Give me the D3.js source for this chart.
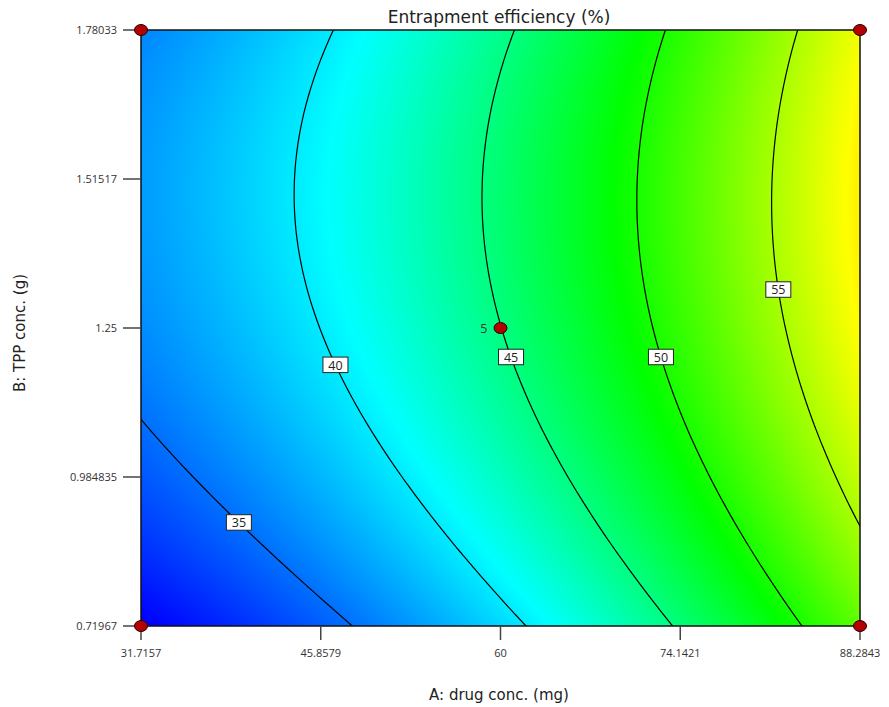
<!DOCTYPE html>
<html>
<head>
<meta charset="utf-8">
<script src="https://cdn.jsdelivr.net/npm/d3@7/dist/d3.min.js"></script>
<style>
  html, body { margin: 0; padding: 0; background: #fff; }
  svg { display: block; font-family: "Open Sans", "Noto Sans", sans-serif; }
  .title { font-family: "DejaVu Sans", "Open Sans", sans-serif; }
</style>
</head>
<body>
<svg id="chart" width="889" height="707"></svg>
<script>
// Factor ranges and axis ticks (actual units)
const drugTicks = [31.7157, 45.8579, 60, 74.1421, 88.2843];
const tppTicks = [0.71967, 0.984835, 1.25, 1.51517, 1.78033];

// Coding of the factors: coded = (actual - center) / step
const factorCenter = [60, 1.25];
const factorStep = [20, 0.375];

// Quadratic model in coded factors: intercept, A, B, AB, A², B²
const modelCoef = [44.97, 7.75, 1.90, -0.06, 1.07, -1.54];

// Contour levels and the TPP value at which each level is labelled
const contourLevels = [35, 40, 45, 50, 55];
const labelTpp = [0.9035, 1.184, 1.198, 1.198, 1.318];

// Design points
const designDrug = [31.7157, 31.7157, 88.2843, 88.2843, 60];
const designTpp = [0.71967, 1.78033, 1.78033, 0.71967, 1.25];
const designRuns = [1, 1, 1, 1, 5];

function response(A, B) {
  const a = (A - factorCenter[0]) / factorStep[0];
  const b = (B - factorCenter[1]) / factorStep[1];
  const [c0, c1, c2, c12, c11, c22] = modelCoef;
  return c0 + c1 * a + c2 * b + c12 * a * b + c11 * a * a + c22 * b * b;
}

const svg = d3.select("#chart");
const pLeft = 141, pRight = 860, pTop = 30, pBottom = 626;
const W = pRight - pLeft, H = pBottom - pTop;

const x = d3.scaleLinear().domain([drugTicks[0], drugTicks[drugTicks.length - 1]]).range([pLeft, pRight]);
const y = d3.scaleLinear().domain([tppTicks[0], tppTicks[tppTicks.length - 1]]).range([pBottom, pTop]);

const color = d3.scaleLinear()
  .domain([30.5, 40.8, 49.2, 58.0, 66.8])
  .range(["#0000ff", "#00ffff", "#00ff00", "#ffff00", "#ff0000"])
  .clamp(true);

// Colour-filled response surface
const canvas = document.createElement("canvas");
canvas.width = W; canvas.height = H;
const ctx = canvas.getContext("2d");
const img = ctx.createImageData(W, H);
for (let py = 0; py < H; py++) {
  const B = y.invert(pTop + py + 0.5);
  for (let px = 0; px < W; px++) {
    const A = x.invert(pLeft + px + 0.5);
    const c = d3.rgb(color(response(A, B)));
    const k = (py * W + px) * 4;
    img.data[k] = c.r; img.data[k + 1] = c.g; img.data[k + 2] = c.b; img.data[k + 3] = 255;
  }
}
ctx.putImageData(img, 0, 0);

svg.append("defs").append("clipPath").attr("id", "plotClip")
  .append("rect").attr("x", pLeft).attr("y", pTop).attr("width", W).attr("height", H);

svg.append("image")
  .attr("x", pLeft).attr("y", pTop).attr("width", W).attr("height", H)
  .attr("preserveAspectRatio", "none")
  .attr("href", canvas.toDataURL());

// Contour lines
const nx = 360, ny = 300;
const values = new Array(nx * ny);
for (let j = 0; j < ny; j++) {
  const B = tppTicks[0] + (tppTicks[4] - tppTicks[0]) * j / (ny - 1);
  for (let i = 0; i < nx; i++) {
    const A = drugTicks[0] + (drugTicks[4] - drugTicks[0]) * i / (nx - 1);
    values[j * nx + i] = response(A, B);
  }
}
const contours = d3.contours().size([nx, ny]).thresholds(contourLevels)(values);
const gx = g => pLeft + (g - 0.5) / (nx - 1) * W;
const gy = g => pBottom - (g - 0.5) / (ny - 1) * H;
function ringPath(ring) {
  return "M" + ring.map(p => gx(p[0]).toFixed(2) + "," + gy(p[1]).toFixed(2)).join("L") + "Z";
}
svg.append("g").attr("clip-path", "url(#plotClip)")
  .selectAll("path").data(contours).join("path")
  .attr("d", d => d.coordinates.map(poly => poly.map(ringPath).join("")).join(""))
  .attr("fill", "none")
  .attr("stroke", "#000")
  .attr("stroke-width", 1.2);

// Frame
svg.append("rect")
  .attr("x", pLeft).attr("y", pTop).attr("width", W).attr("height", H)
  .attr("fill", "none").attr("stroke", "#111").attr("stroke-width", 1.5);

// Contour labels
function solveDrug(level, B) {
  let lo = drugTicks[0], hi = drugTicks[4];
  for (let k = 0; k < 60; k++) {
    const mid = (lo + hi) / 2;
    if (response(mid, B) < level) lo = mid; else hi = mid;
  }
  return (lo + hi) / 2;
}
const labels = svg.append("g").selectAll("g")
  .data(contourLevels.map((lv, i) => ({ lv, A: solveDrug(lv, labelTpp[i]), B: labelTpp[i] })))
  .join("g")
  .attr("transform", d => `translate(${x(d.A)},${y(d.B)})`);
labels.append("rect")
  .attr("x", -12.5).attr("y", -8).attr("width", 25).attr("height", 15.5)
  .attr("fill", "#fff").attr("stroke", "#222").attr("stroke-width", 1);
labels.append("text")
  .attr("text-anchor", "middle").attr("y", 4.5)
  .attr("font-size", 12.5).attr("fill", "#222")
  .text(d => d.lv);

// Axes ticks and labels
const axisColor = "#444";
const xt = svg.append("g");
xt.selectAll("line").data(drugTicks).join("line")
  .attr("x1", d => x(d)).attr("x2", d => x(d))
  .attr("y1", pBottom).attr("y2", pBottom + 14)
  .attr("stroke", axisColor).attr("stroke-width", 1.5);
xt.selectAll("text").data(drugTicks).join("text")
  .attr("x", d => x(d)).attr("y", 657)
  .attr("text-anchor", "middle").attr("font-size", 11).attr("fill", "#333")
  .text(d => d3.format("")(d));

const yt = svg.append("g");
yt.selectAll("line").data(tppTicks).join("line")
  .attr("x1", pLeft - 18).attr("x2", pLeft)
  .attr("y1", d => y(d)).attr("y2", d => y(d))
  .attr("stroke", axisColor).attr("stroke-width", 1.5);
yt.selectAll("text").data(tppTicks).join("text")
  .attr("x", 117).attr("y", d => y(d) + 4)
  .attr("text-anchor", "end").attr("font-size", 11).attr("fill", "#333")
  .text(d => d3.format("")(d));

// Design points
const pts = svg.append("g");
pts.selectAll("ellipse").data(designDrug).join("ellipse")
  .attr("cx", d => x(d)).attr("cy", (d, i) => y(designTpp[i]))
  .attr("rx", 6.5).attr("ry", 5.5)
  .attr("fill", "#b30000").attr("stroke", "#2a0000").attr("stroke-width", 1);
pts.selectAll("text").data(designDrug.map((d, i) => ({ A: d, B: designTpp[i], n: designRuns[i] })).filter(d => d.n > 1))
  .join("text")
  .attr("x", d => x(d.A) - 13).attr("y", d => y(d.B) + 5)
  .attr("text-anchor", "end").attr("font-size", 12.5).attr("fill", "#333")
  .text(d => d.n);

// Titles
svg.append("text").attr("class", "title")
  .attr("x", 499).attr("y", 23).attr("text-anchor", "middle")
  .attr("font-size", 17).attr("fill", "#222")
  .text("Entrapment efficiency (%)");
svg.append("text").attr("class", "title")
  .attr("x", 499).attr("y", 700).attr("text-anchor", "middle")
  .attr("font-size", 15).attr("fill", "#222")
  .text("A: drug conc. (mg)");
svg.append("text").attr("class", "title")
  .attr("transform", "translate(25,333) rotate(-90)")
  .attr("text-anchor", "middle")
  .attr("font-size", 15).attr("fill", "#222")
  .text("B: TPP conc. (g)");
</script>
</body>
</html>
